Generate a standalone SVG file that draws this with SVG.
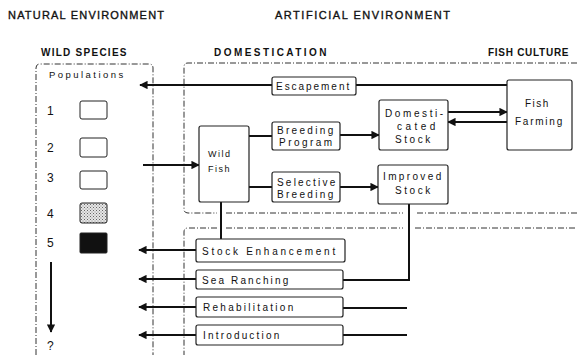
<svg xmlns="http://www.w3.org/2000/svg" width="577" height="355" viewBox="0 0 577 355">
<defs>
<marker id="ah" viewBox="0 0 10 10" refX="9" refY="5" markerWidth="5" markerHeight="4.2" orient="auto" markerUnits="strokeWidth">
<path d="M0,0 L10,5 L0,10 z" fill="#111"/>
</marker>
<pattern id="stip" width="3" height="3" patternUnits="userSpaceOnUse">
<rect width="3" height="3" fill="#e6e6e6"/>
<rect x="0" y="0" width="1" height="1" fill="#666"/>
<rect x="1.5" y="1.5" width="1" height="1" fill="#888"/>
</pattern>
</defs>
<style>
text{font-family:"Liberation Sans",Arial,sans-serif;fill:#111}
.title{font-size:11px;letter-spacing:1px;stroke:#111;stroke-width:0.35}
.head{font-size:10px;font-weight:bold;letter-spacing:1.5px}
.lbl{font-size:10px;letter-spacing:1.8px}
.num{font-size:12px}
.box{fill:#fff;stroke:#222;stroke-width:1.2}
.region{fill:none;stroke:#333;stroke-width:1;stroke-dasharray:6 2 1 2}
.conn{fill:none;stroke:#111;stroke-width:2}
.sq{stroke:#222;stroke-width:1}
</style>
<rect width="577" height="355" fill="#fff"/>

<g id="titles">
<text class="title" x="8" y="19" textLength="157" lengthAdjust="spacing">NATURAL ENVIRONMENT</text>
<text class="title" x="275" y="19" textLength="176" lengthAdjust="spacing">ARTIFICIAL ENVIRONMENT</text>
<text class="head" x="41" y="56" textLength="87" lengthAdjust="spacing">WILD SPECIES</text>
<text class="head" x="214" y="56" textLength="114" lengthAdjust="spacing">DOMESTICATION</text>
<text class="head" x="488" y="56" textLength="82" lengthAdjust="spacing">FISH CULTURE</text>
</g>

<g id="regions">
<path class="region" d="M36,355 V68 Q36,64 40,64 H149 Q153,64 153,68 V355"/>
<path class="region" d="M577,63 H188 Q184,63 184,67 V209 Q184,213 188,213 H217 M226,213 H403 M417,213 H577"/>
<path class="region" d="M217,228 H188 Q184,228 184,232 V355 M226,228 H403 M415,228 H577"/>
</g>

<g id="populations">
<text class="lbl" x="49" y="78" textLength="76" lengthAdjust="spacing" style="font-size:9.5px">Populations</text>
<text class="num" x="47" y="115">1</text>
<text class="num" x="47" y="152">2</text>
<text class="num" x="47" y="182">3</text>
<text class="num" x="47" y="218">4</text>
<text class="num" x="47" y="247">5</text>
<text class="num" x="47" y="350">?</text>
<rect class="sq" x="80" y="101" width="27" height="18" rx="2" fill="#fff"/>
<rect class="sq" x="80" y="138" width="27" height="19" rx="2" fill="#fff"/>
<rect class="sq" x="80" y="171" width="27" height="18" rx="2" fill="#fff"/>
<rect class="sq" x="80" y="203" width="27" height="20" rx="2" fill="url(#stip)"/>
<rect class="sq" x="80" y="233" width="27" height="20" rx="1" fill="#111"/>
</g>

<g id="connectors">
<path class="conn" d="M507,85 H356"/>
<path class="conn" d="M272,85 H140" marker-end="url(#ah)"/>
<path class="conn" d="M143,165 H199" marker-end="url(#ah)"/>
<path class="conn" d="M249,136 H272"/>
<path class="conn" d="M340,135 H379" marker-end="url(#ah)"/>
<path class="conn" d="M249,187 H272"/>
<path class="conn" d="M340,187 H378" marker-end="url(#ah)"/>
<path class="conn" d="M448,112 H507" marker-end="url(#ah)"/>
<path class="conn" d="M507,122 H448" marker-end="url(#ah)"/>
<path class="conn" d="M221,202 V239"/>
<path class="conn" d="M409,204 V280 H343"/>
<path class="conn" d="M407,308 H343"/>
<path class="conn" d="M407,335 H343"/>
<path class="conn" d="M196,250 H139" marker-end="url(#ah)"/>
<path class="conn" d="M196,279 H139" marker-end="url(#ah)"/>
<path class="conn" d="M196,307 H139" marker-end="url(#ah)"/>
<path class="conn" d="M196,335 H139" marker-end="url(#ah)"/>
<path class="conn" d="M51,262 V332" marker-end="url(#ah)"/>
</g>

<g id="escapement">
<rect class="box" x="272" y="77" width="84" height="18" rx="2"/>
<text class="lbl" x="276" y="90" textLength="75" lengthAdjust="spacing">Escapement</text>
</g>

<g id="wild-fish">
<rect class="box" x="199" y="126" width="50" height="76" rx="2"/>
<text class="lbl" x="208" y="157" style="font-size:9px;letter-spacing:1.5px">Wild</text>
<text class="lbl" x="208" y="172" style="font-size:9px;letter-spacing:1.5px">Fish</text>
</g>

<g id="breeding-program">
<rect class="box" x="272" y="122" width="68" height="28" rx="2"/>
<text class="lbl" x="277" y="134" textLength="58" lengthAdjust="spacing">Breeding</text>
<text class="lbl" x="279" y="146" textLength="55" lengthAdjust="spacing">Program</text>
</g>

<g id="selective-breeding">
<rect class="box" x="272" y="172" width="68" height="30" rx="2"/>
<text class="lbl" x="277" y="186" textLength="60" lengthAdjust="spacing">Selective</text>
<text class="lbl" x="277" y="198" textLength="58" lengthAdjust="spacing">Breeding</text>
</g>

<g id="domesticated-stock">
<rect class="box" x="379" y="100" width="69" height="50" rx="2"/>
<text class="lbl" x="385" y="117" textLength="60" lengthAdjust="spacing">Domesti-</text>
<text class="lbl" x="397" y="130" textLength="40" lengthAdjust="spacing">cated</text>
<text class="lbl" x="395" y="143" textLength="37" lengthAdjust="spacing">Stock</text>
</g>

<g id="improved-stock">
<rect class="box" x="378" y="165" width="70" height="39" rx="2"/>
<text class="lbl" x="383" y="180" textLength="60" lengthAdjust="spacing">Improved</text>
<text class="lbl" x="395" y="194" textLength="37" lengthAdjust="spacing">Stock</text>
</g>

<g id="fish-farming">
<rect class="box" x="507" y="80" width="65" height="70" rx="2"/>
<text class="lbl" x="525" y="107" textLength="25" lengthAdjust="spacing">Fish</text>
<text class="lbl" x="515" y="125" textLength="49" lengthAdjust="spacing">Farming</text>
</g>

<g id="stock-enhancement">
<rect class="box" x="196" y="239" width="149" height="23" rx="2"/>
<text class="lbl" x="202" y="255" textLength="135" lengthAdjust="spacing">Stock Enhancement</text>
</g>

<g id="sea-ranching">
<rect class="box" x="196" y="270" width="147" height="19" rx="2"/>
<text class="lbl" x="202" y="284" textLength="88" lengthAdjust="spacing">Sea Ranching</text>
</g>

<g id="rehabilitation">
<rect class="box" x="196" y="297" width="147" height="20" rx="2"/>
<text class="lbl" x="203" y="311" textLength="92" lengthAdjust="spacing">Rehabilitation</text>
</g>

<g id="introduction">
<rect class="box" x="196" y="325" width="147" height="20" rx="2"/>
<text class="lbl" x="203" y="339" textLength="78" lengthAdjust="spacing">Introduction</text>
</g>
</svg>
